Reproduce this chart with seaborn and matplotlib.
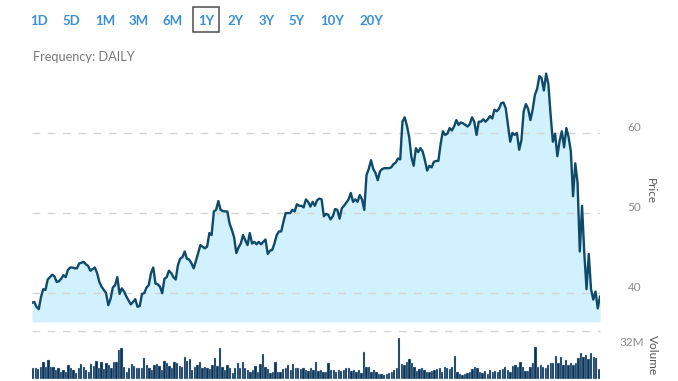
import numpy as np
import pandas as pd
import seaborn as sns
import matplotlib.pyplot as plt
from matplotlib.patches import Rectangle


## DATA
price = [
    38.8, 38.9, 38.3, 38.0, 39.5, 40.5, 40.4, 41.7, 42.0, 42.3,
    42.1, 41.4, 41.5, 41.8, 42.25, 42.0, 42.9, 43.2, 43.2, 43.1,
    43.1, 43.7, 43.8, 43.9, 43.6, 43.4, 42.8, 43.0, 43.2, 42.5,
    41.4, 40.8, 40.4, 40.0, 38.5, 39.3, 40.7, 41.0, 42.0, 39.9,
    40.6, 40.2, 39.6, 39.1, 38.6, 38.9, 39.25, 38.3, 38.4, 39.9,
    40.0, 40.7, 41.0, 42.5, 43.2, 41.2, 41.1, 40.8, 40.0, 41.8,
    42.0, 42.8, 42.5, 42.0, 41.7, 43.5, 44.3, 44.5, 45.2, 44.3,
    44.2, 43.75, 43.1, 44.0, 45.0, 46.0, 45.8, 45.6, 45.8, 47.5,
    47.25, 50.2, 50.4, 51.5, 50.4, 50.25, 50.2, 50.2, 48.7, 47.9,
    47.0, 45.0, 45.7, 46.2, 47.25, 46.6, 46.0, 47.5, 46.2, 46.4,
    46.1, 46.4, 46.1, 46.4, 46.7, 44.9, 45.3, 45.4, 46.2, 47.25,
    47.7, 47.7, 48.9, 50.0, 50.0, 50.0, 50.4, 50.2, 51.1, 50.9,
    50.9, 50.7, 51.7, 51.4, 50.8, 51.4, 50.9, 51.6, 51.8, 51.7,
    49.6, 49.9, 49.75, 49.2, 49.6, 50.5, 50.4, 49.3, 50.6, 50.9,
    51.3, 51.7, 52.5, 51.4, 51.7, 51.4, 52.25, 51.7, 50.4, 54.75,
    55.5, 56.6, 55.5, 55.0, 54.1, 55.2, 55.5, 55.6, 55.6, 55.6,
    55.7, 56.1, 56.3, 56.8, 56.7, 61.4, 61.95, 60.9, 59.5, 57.0,
    55.9, 58.1, 57.6, 58.1, 57.7, 56.6, 55.3, 55.9, 55.7, 56.4,
    56.5, 56.5, 58.6, 60.2, 59.75, 59.9, 60.6, 60.3, 60.8, 61.6,
    61.0, 61.3, 61.2, 61.0, 60.8, 61.1, 61.95, 61.4, 59.75, 61.4,
    61.4, 61.7, 61.4, 61.7, 62.1, 61.8, 62.9, 62.7, 63.0, 63.7,
    63.8, 63.1, 61.0, 58.9, 60.0, 59.75, 60.0, 57.9, 59.1, 62.7,
    63.6, 63.0, 61.6, 62.9, 64.75, 65.5, 67.1, 66.8, 65.3, 67.4,
    66.1, 62.25, 58.9, 59.9, 57.1, 59.0, 60.2,
    58.2, 60.6, 59.5, 57.7, 52.1, 56.2, 53.8,
    45.2, 50.9, 45.0, 40.5, 44.9, 40.5, 39.2, 40.2, 38.1, 39.6,
]

volume_m = [
    9.2, 9.8, 8.7, 10.6, 14.4, 10.6, 16.4, 10.6, 10.6, 7.8,
    9.2, 6.3, 7.8, 6.3, 12.1, 9.8, 7.8, 4.9, 9.2, 12.7,
    10.6, 7.8, 6.3, 12.7, 11.5, 15.6, 9.2, 14.4, 8.7, 13.6,
    12.1, 9.2, 14.4, 14.4, 25.1, 26.5, 10.6, 6.3, 9.8, 12.7,
    11.5, 9.2, 9.8, 9.2, 17.9, 12.1, 9.2, 7.8, 12.1, 12.7,
    11.5, 7.8, 15.6, 13.6, 11.5, 9.2, 14.4, 13.6, 11.5, 10.6,
    19.3, 15.6, 17.3, 7.8, 10.6, 12.1, 14.4, 9.2, 10.6, 9.2,
    8.7, 12.1, 17.9, 11.5, 26.5, 10.6, 7.8, 12.1, 9.2, 4.9,
    9.2, 13.6, 9.2, 14.4, 9.2, 7.8, 6.3, 7.8, 11.5, 6.3,
    12.7, 21.4, 10.6, 8.7, 4.9, 6.3, 14.4, 6.3, 5.8, 8.7,
    9.2, 12.1, 7.8, 12.7, 9.2, 9.8, 8.7, 9.2, 7.8, 7.2,
    9.2, 7.8, 14.4, 6.9, 7.8, 6.3, 5.8, 13.6,
    7.8, 7.8, 6.3, 7.8, 7.2, 7.8, 9.2, 9.2, 7.2, 7.8,
    6.3, 7.8, 4.9, 23.1, 10.6, 10.1, 6.3, 7.8, 6.3, 4.3,
    4.3, 3.5, 4.3, 5.4, 6.3, 7.8, 9.2, 35.2, 13.0, 12.1,
    15.0, 17.0, 13.6, 10.6, 7.2, 8.4, 9.2, 7.8, 6.3, 6.3,
    7.2, 7.8, 8.4, 9.2, 6.3, 10.6,
    9.2, 8.4, 10.1, 19.9, 6.3, 4.3, 3.5, 4.1, 4.9, 6.3,
    8.4, 10.1, 9.2, 6.3, 5.4, 7.2, 4.3, 7.8, 6.3, 7.2,
    6.3, 7.8, 8.4, 10.6, 7.8, 6.3, 11.2, 12.1, 10.6, 15.0,
    10.6, 7.2, 7.2, 10.6, 14.1, 27.9, 10.6, 12.1, 10.1, 9.2,
    12.1, 13.6, 14.1, 19.9, 13.6, 18.8, 12.1, 16.4, 12.1, 14.1,
    12.1, 13.6, 17.9, 22.7, 19.3, 20.8, 17.0, 22.7, 18.8, 17.9,
    8.4,
]

ranges = ['1D', '5D', '1M', '3M', '6M', '1Y', '2Y', '3Y', '5Y', '10Y', '20Y']
selected = '1Y'
price_ticks = [40, 50, 60]
volume_ticks = [32]


## SET STYLE
sns.set_theme(style='white')
plt.rcParams['font.family'] = ['Lato', 'DejaVu Sans']

W, H = 678, 381
fig = plt.figure(figsize=(W / 100, H / 100), dpi=100)


def box(l, t, r, b):
    return [l / W, 1 - b / H, (r - l) / W, (b - t) / H]


grid_kw = dict(color='#d4d4d4', lw=1, linestyle=(0, (5.5, 5.5)))
lab_color = '#8c8c8c'

## PRICE
ax = fig.add_axes(box(32, 60, 600, 322))
df = pd.DataFrame({'day': np.arange(len(price)), 'price': price})
y0, y1 = 36.4, 69.1
ax.fill_between(df['day'], df['price'], y0, color='#d0f1fd', lw=0, zorder=1)
for t in price_ticks:
    ax.axhline(t, zorder=2, **grid_kw)
sns.lineplot(data=df, x='day', y='price', color='#0f4a6b', lw=1.7, ax=ax, zorder=3)
ax.set_xlim(0, len(price) - 1)
ax.set_ylim(y0, y1)
ax.set_xticks([])
ax.yaxis.tick_right()
ax.set_yticks(price_ticks, [str(t) for t in price_ticks])
ax.tick_params(axis='y', length=0, pad=20, labelsize=8.5, labelcolor=lab_color)
for lbl in ax.get_yticklabels():
    lbl.set_va('bottom')
ax.yaxis.set_label_position('right')
ax.set_ylabel('Price', rotation=270, color='#555555', fontsize=8.5, labelpad=10)
ax.set_xlabel('')
sns.despine(ax=ax, left=True, right=True, top=True, bottom=True)

## VOLUME
axv = fig.add_axes(box(32, 331, 600, 379))
vx = np.arange(len(volume_m))
sns.barplot(x=vx, y=volume_m, color='#0a3257', saturation=1, width=0.92,
            edgecolor='#b8cde0', linewidth=0.25, ax=axv)
vtop = 41.5
axv.axhline(vtop, clip_on=False, **grid_kw)
axv.set_xlim(-0.5, len(volume_m) - 0.5)
axv.set_ylim(0, vtop)
axv.set_xticks([])
axv.yaxis.tick_right()
axv.set_yticks(volume_ticks, [f'{t}M' for t in volume_ticks])
axv.tick_params(axis='y', length=0, pad=14, labelsize=8.5, labelcolor=lab_color)
axv.yaxis.set_label_position('right')
axv.set_ylabel('Volume', rotation=270, color='#555555', fontsize=8.5, labelpad=10)
sns.despine(ax=axv, left=True, right=True, top=True, bottom=True)

## RANGE BUTTONS
centers = [39, 71, 105, 139, 173, 206, 236, 267, 297, 332, 371]
for name, cx in zip(ranges, centers):
    fig.text(cx / W, 1 - 21 / H, name, ha='center', va='center',
             color='#3a8fd9', fontsize=9.5, fontweight='bold')
    if name == selected:
        fig.add_artist(Rectangle(((cx - 13) / W, 1 - 32 / H), 26 / W, 25 / H,
                                 transform=fig.transFigure, fill=False,
                                 edgecolor='#4d4d4d', lw=1.1))

fig.text(33 / W, 1 - 57 / H, 'Frequency: DAILY', ha='left', va='center',
         color='#777777', fontsize=9.2)

plt.savefig('out.png', dpi=100)
